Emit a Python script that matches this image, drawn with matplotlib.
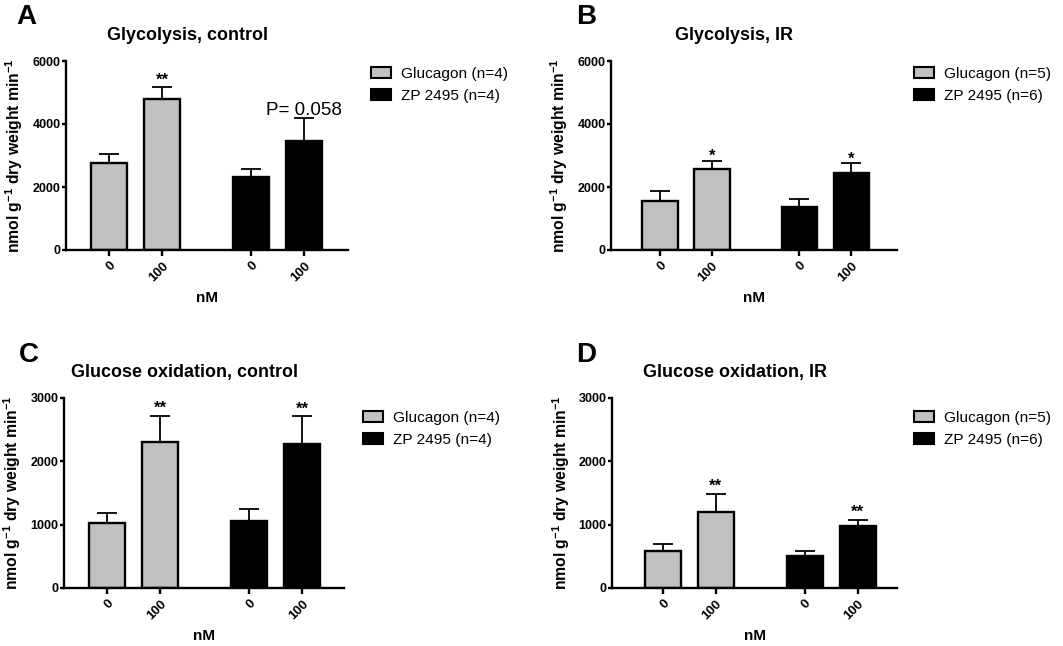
import matplotlib
matplotlib.use("Agg")
import matplotlib.pyplot as plt

plt.rcParams['font.family'] = ['Liberation Sans', 'DejaVu Sans']
plt.rcParams['mathtext.fontset'] = 'custom'
plt.rcParams['mathtext.rm'] = 'Liberation Sans:bold'
plt.rcParams['mathtext.bf'] = 'Liberation Sans:bold'

# data (means and upper error bar ends)
tick_labels = ['0', '100', '0', '100']

glyco_ctrl = [2750, 4790, 2330, 3460]
glyco_ctrl_err = [3050, 5160, 2560, 4180]

glyco_ir = [1570, 2580, 1350, 2450]
glyco_ir_err = [1880, 2820, 1620, 2750]

gox_ctrl = [1020, 2300, 1060, 2270]
gox_ctrl_err = [1190, 2720, 1250, 2710]

gox_ir = [580, 1200, 500, 985]
gox_ir_err = [690, 1490, 580, 1080]

stars_a = ['', '**', '', '']
stars_b = ['', '*', '', '*']
stars_c = ['', '**', '', '**']
stars_d = ['', '**', '', '**']

legend_ctrl = ['Glucagon (n=4)', 'ZP 2495 (n=4)']
legend_ir = ['Glucagon (n=5)', 'ZP 2495 (n=6)']

GREY = '#c0c0c0'
pos = [1, 2, 3.68, 4.68]
colors = [GREY, GREY, 'black', 'black']

fig = plt.figure(figsize=(10.63, 6.46), dpi=100)

W, H = 1063, 646


def make_ax(l, r, top, bot):
    return fig.add_axes([l / W, 1 - bot / H, (r - l) / W, (bot - top) / H])


def panel(ax, vals, errs, stars, ymax, yticks, title, leg, xlim, letter, lpos, legpos, star_off):
    ax.bar(pos, vals, width=0.68, color=colors, edgecolor='black', linewidth=1.7, zorder=2)
    lower = [0] * len(vals)
    upper = [e - v for e, v in zip(errs, vals)]
    ax.errorbar(pos, vals, yerr=[lower, upper], fmt='none', ecolor='black',
                elinewidth=1.3, capsize=7, capthick=1.3, zorder=1)
    for x, e, s in zip(pos, errs, stars):
        if s:
            ax.annotate(s, (x, e), xytext=(0, star_off / 1.389), textcoords='offset points',
                        ha='center', va='baseline', fontsize=12, fontweight='bold')
    ax.set_xlim(*xlim)
    ax.set_ylim(0, ymax)
    ax.set_yticks(yticks)
    ax.set_yticklabels([str(t) for t in yticks], fontsize=9, fontweight='bold')
    ax.set_xticks(pos)
    ax.set_xticklabels(tick_labels, rotation=45, fontsize=9.5, fontweight='bold',
                       ha='right', va='top', rotation_mode='anchor')
    ax.spines['top'].set_visible(False)
    ax.spines['right'].set_visible(False)
    ax.spines['left'].set_linewidth(1.7)
    ax.spines['bottom'].set_linewidth(1.7)
    ax.tick_params(axis='y', width=1.7, length=3, pad=1, direction='out')
    ax.tick_params(axis='x', width=1.7, length=4, pad=3, direction='out')
    ax.set_xlabel('nM', fontsize=11, fontweight='bold', labelpad=5)
    ax.set_ylabel(r'nmol g$^{-1}$ dry weight min$^{-1}$', fontsize=11.3,
                  fontweight='bold', labelpad=5)
    ax.set_title(title, fontsize=12.9, fontweight='bold', x=0.43, pad=15)
    fig.text(lpos[0] / W, 1 - lpos[1] / H, letter, fontsize=20, fontweight='bold',
             ha='left', va='top')
    h1 = plt.Rectangle((0, 0), 1, 1, facecolor=GREY, edgecolor='black', linewidth=1.5)
    h2 = plt.Rectangle((0, 0), 1, 1, facecolor='black', edgecolor='black', linewidth=1.5)
    fig.legend([h1, h2], leg, loc='upper left', bbox_to_anchor=(legpos[0] / W, 1 - legpos[1] / H),
               frameon=False, fontsize=11.1, borderpad=0, borderaxespad=0,
               handlelength=1.3, handleheight=0.75, handletextpad=0.65, labelspacing=0.5)


ax_a = make_ax(66, 348, 61, 250)
panel(ax_a, glyco_ctrl, glyco_ctrl_err, stars_a, 6000, [0, 2000, 4000, 6000],
      'Glycolysis, control', legend_ctrl, (0.19, 5.51), 'A', (16, 4), (371, 67), 3)
ax_a.text(pos[3], 4300, 'P= 0.058', ha='center', va='baseline', fontsize=13.5)

ax_b = make_ax(611, 897, 61, 250)
panel(ax_b, glyco_ir, glyco_ir_err, stars_b, 6000, [0, 2000, 4000, 6000],
      'Glycolysis, IR', legend_ir, (0.06, 5.56), 'B', (576, 4), (914, 67), 0)

ax_c = make_ax(64, 344, 398, 588)
panel(ax_c, gox_ctrl, gox_ctrl_err, stars_c, 3000, [0, 1000, 2000, 3000],
      'Glucose oxidation, control', legend_ctrl, (0.19, 5.47), 'C', (19, 342), (363, 411), 3)

ax_d = make_ax(612, 897, 398, 588)
panel(ax_d, gox_ir, gox_ir_err, stars_d, 3000, [0, 1000, 2000, 3000],
      'Glucose oxidation, IR', legend_ir, (0.04, 5.42), 'D', (576, 342), (914, 411), 2.5)

fig.savefig('out.png', dpi=100)
